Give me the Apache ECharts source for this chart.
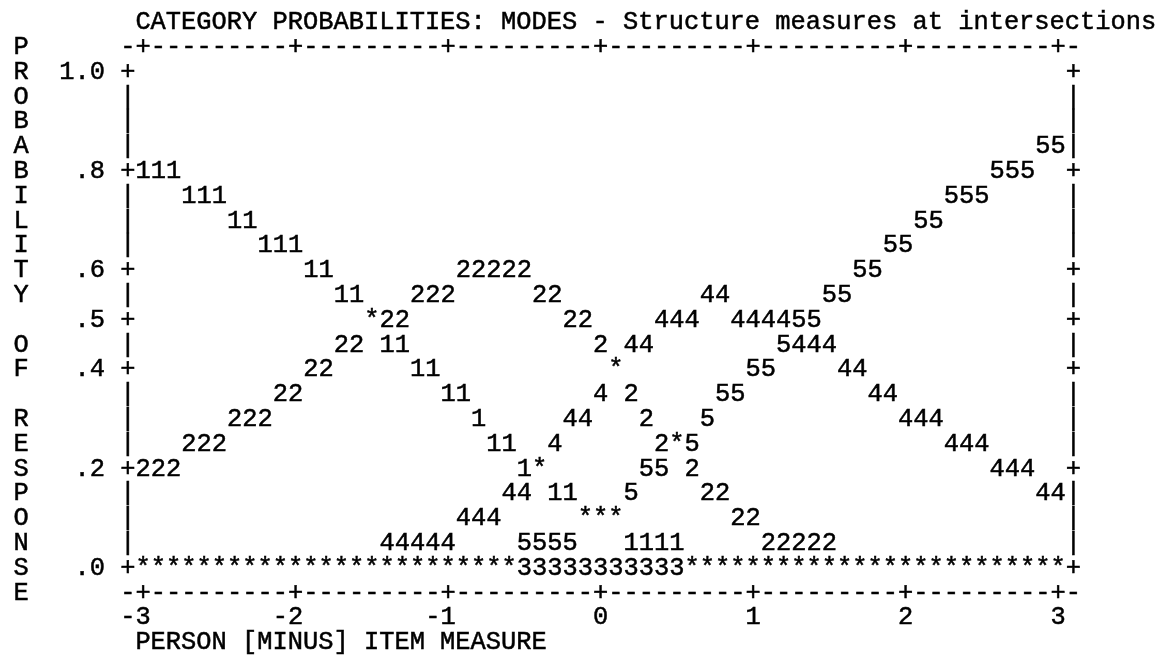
<!DOCTYPE html>
<html><head><meta charset="utf-8">
<script src="https://cdn.jsdelivr.net/npm/echarts@6/dist/echarts.min.js"></script>
<style>html,body{margin:0;padding:0;background:#fff}#c{width:1166px;height:655px}</style>
</head><body><div id="c"></div>
<script>
const chartTitle = "CATEGORY PROBABILITIES: MODES - Structure measures at intersections";
const xTitle = "PERSON [MINUS] ITEM MEASURE";
const yTitle = "PROBABILITY OF RESPONSE";
const xTicks = [-3, -2, -1, 0, 1, 2, 3];
const xTickLabels = ["-3", "-2", "-1", "0", "1", "2", "3"];
const yTicks = [1.0, 0.8, 0.6, 0.5, 0.4, 0.2, 0.0];
const yTickLabels = ["1.0", ".8", ".6", ".5", ".4", ".2", ".0"];
const categoryLabels = ["1", "2", "3", "4", "5"];

// person minus item measure (one plotted column each)
const measures = [-3.0,-2.9,-2.8,-2.7,-2.6,-2.5,-2.4,-2.3,-2.2,-2.1,
  -2.0,-1.9,-1.8,-1.7,-1.6,-1.5,-1.4,-1.3,-1.2,-1.1,
  -1.0,-0.9,-0.8,-0.7,-0.6,-0.5,-0.4,-0.3,-0.2,-0.1,
  0.0,0.1,0.2,0.3,0.4,0.5,0.6,0.7,0.8,0.9,
  1.0,1.1,1.2,1.3,1.4,1.5,1.6,1.7,1.8,1.9,
  2.0,2.1,2.2,2.3,2.4,2.5,2.6,2.7,2.8,2.9,3.0];

// probability of each category
const cat1 = [.80,.80,.80,.75,.75,.75,.70,.70,.65,.65,
  .65,.60,.60,.55,.55,.50,.45,.45,.40,.40,
  .35,.35,.30,.25,.25,.20,.20,.15,.15,.10,
  .10,.10,.05,.05,.05,.05,0,0,0,0,
  0,0,0,0,0,0,0,0,0,0,
  0,0,0,0,0,0,0,0,0,0,0];
const cat2 = [.20,.20,.20,.25,.25,.25,.30,.30,.30,.35,
  .35,.40,.40,.45,.45,.50,.50,.50,.55,.55,
  .55,.60,.60,.60,.60,.60,.55,.55,.50,.50,
  .45,.40,.35,.30,.25,.25,.20,.15,.15,.10,
  .10,.05,.05,.05,.05,.05,0,0,0,0,
  0,0,0,0,0,0,0,0,0,0,0];
const cat3 = [0,0,0,0,0,0,0,0,0,0,
  0,0,0,0,0,0,0,0,0,0,
  0,0,0,0,0,0,0,0,0,0,
  0,0,0,0,0,0,0,0,0,0,
  0,0,0,0,0,0,0,0,0,0,
  0,0,0,0,0,0,0,0,0,0,0];
const cat4 = [0,0,0,0,0,0,0,0,0,0,
  0,0,0,0,0,0,.05,.05,.05,.05,
  .05,.10,.10,.10,.15,.15,.20,.25,.30,.30,
  .35,.40,.45,.45,.50,.50,.50,.55,.55,.50,
  .50,.50,.50,.45,.45,.45,.40,.40,.35,.35,
  .30,.30,.30,.25,.25,.25,.20,.20,.20,.15,.15];
const cat5 = [0,0,0,0,0,0,0,0,0,0,
  0,0,0,0,0,0,0,0,0,0,
  0,0,0,0,0,.05,.05,.05,.05,.10,
  .10,.10,.15,.20,.20,.25,.25,.30,.35,.35,
  .40,.40,.45,.50,.50,.55,.55,.60,.60,.65,
  .65,.70,.70,.75,.75,.75,.80,.80,.80,.85,.85];

const FS = 25.4;
const FONT = FS + 'px "Liberation Mono", "DejaVu Sans Mono", monospace';
const INK = '#000';
const COL = 0.1;   // one character column in measure units
const ROW = 0.05;  // one text row in probability units

// ---- plotted characters: a digit, or '*' where curves coincide
const curves = [cat1, cat2, cat3, cat4, cat5];
const cellMap = new Map();
measures.forEach((x, i) => {
  curves.forEach((arr, s) => {
    const r = Math.round(arr[i] / ROW);
    const key = i + '_' + r;
    if (!cellMap.has(key)) cellMap.set(key, {x: x, y: r * ROW, cats: []});
    cellMap.get(key).cats.push(categoryLabels[s]);
  });
});
const marks = [];
cellMap.forEach(c => marks.push({x: c.x, y: c.y, t: c.cats.length > 1 ? '*' : c.cats[0], a: 'center'}));

// ---- ascii frame and labels
const xMin = xTicks[0], xMax = xTicks[xTicks.length - 1];
const frame = [];
const topRow = 1 + ROW, botRow = -ROW;
for (let i = -1; i <= 61; i++) {
  const x = xMin + i * COL;
  const isTick = xTicks.some(t => Math.abs(t - x) < 1e-6);
  frame.push({x: x, y: topRow, t: isTick ? '+' : '-', a: 'center'});
  frame.push({x: x, y: botRow, t: isTick ? '+' : '-', a: 'center'});
}
for (let r = 0; r <= 20; r++) {
  const y = r * ROW;
  const isTick = yTicks.some(t => Math.abs(t - y) < 1e-6);
  frame.push({x: xMin - COL, y: y, t: isTick ? '+' : '|', a: 'center'});
  frame.push({x: xMax + COL, y: y, t: isTick ? '+' : '|', a: 'center'});
}
yTicks.forEach((v, i) => frame.push({x: xMin - 3 * COL + COL / 2, y: v, t: yTickLabels[i], a: 'right'}));
xTicks.forEach((v, i) => frame.push({x: v + COL / 2, y: -2 * ROW, t: xTickLabels[i], a: 'right'}));
yTitle.split('').forEach((ch, i) => frame.push({x: xMin - 8 * COL, y: 1 + ROW - i * ROW, t: ch, a: 'center'}));
frame.push({x: xMin - COL / 2, y: 1 + 2 * ROW, t: chartTitle, a: 'left'});
frame.push({x: xMin - COL / 2, y: -3 * ROW, t: xTitle, a: 'left'});

function textRenderer(list) {
  return function (params, api) {
    const c = list[params.dataIndex];
    const pt = api.coord([c.x, c.y]);
    return {
      type: 'text',
      x: pt[0], y: pt[1],
      silent: true,
      style: {
        text: c.t, fill: INK, font: FONT,
        stroke: INK, lineWidth: 0.5,
        align: c.a, verticalAlign: 'middle',
        textAlign: c.a, textVerticalAlign: 'middle'
      }
    };
  };
}

const chart = echarts.init(document.getElementById('c'), null, {renderer: 'canvas'});
chart.setOption({
  animation: false,
  backgroundColor: '#fff',
  grid: {left: 143, right: 108, top: 72, bottom: 87},
  xAxis: {type: 'value', min: xMin, max: xMax, show: false},
  yAxis: {type: 'value', min: 0, max: 1, show: false},
  series: [
    {type: 'custom', name: 'frame', coordinateSystem: 'cartesian2d', clip: false,
     data: frame.map(c => [c.x, c.y]), renderItem: textRenderer(frame)},
    {type: 'custom', name: 'category curves', coordinateSystem: 'cartesian2d', clip: false,
     data: marks.map(c => [c.x, c.y]), renderItem: textRenderer(marks)}
  ]
});
</script></body></html>
